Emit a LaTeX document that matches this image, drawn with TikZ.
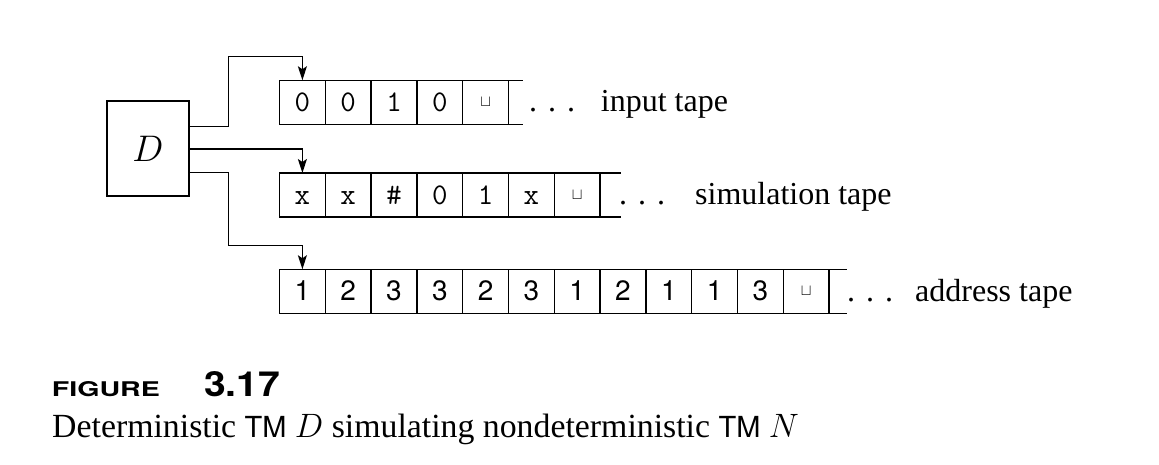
\documentclass[tikz,border=0pt]{standalone}
\usepackage{fix-cm}
\usepackage{fontspec}
\setmainfont{Liberation Serif}
\setsansfont{TeX Gyre Heros}
\usetikzlibrary{arrows.meta}
\tikzset{
  cell/.style={draw, line width=1.5pt, minimum width=45.8pt, minimum height=44pt,
    inner sep=0pt, outer sep=0pt, text height=18.3pt, text depth=0pt,
    font=\fontsize{30}{30}\selectfont\ttfamily},
  acell/.style={cell, font=\fontsize{28}{28}\selectfont\sffamily},
  tapeline/.style={line width=1.5pt},
  conn/.style={line width=1.5pt, -{Stealth[length=14pt,width=9pt,inset=3pt]}},
  lbl/.style={anchor=base west, inner sep=0pt, font=\fontsize{32}{32}\selectfont},
  dotlbl/.style={anchor=base west, inner sep=0pt, font=\fontsize{32}{32}\selectfont},
}
\newcommand{\blanksym}{\raisebox{5pt}{\fontsize{16}{16}\selectfont$\sqcup$}}
\newcommand{\tapedots}{.\hspace{11pt}.\hspace{11pt}.}
\begin{document}
\begin{tikzpicture}[x=1pt, y=-1pt]
\useasboundingbox (0,0) rectangle (1159,464);
% machine D
\node[draw, line width=1.5pt, minimum width=82pt, minimum height=95pt, inner sep=0pt]
  (D) at (148,148.5) {\fontsize{37}{37}\selectfont$D$};
% input tape
\foreach \t [count=\k] in {0,0,1,0,\blanksym}
  \node[cell] (i\k) at ({279.5+45.8*(\k-0.5)},102.25) {\t};
\draw[tapeline] (i5.north east) -- ++(14.5,0) coordinate (ie1);
\draw[tapeline] (i5.south east) -- ++(14.5,0) coordinate (ie2);
\node[dotlbl] (idots) at (529,111) {\tapedots};
\node[lbl] (ilbl) at (600.7,111) {input tape};
% simulation tape
\foreach \t [count=\k] in {x,x,\#,0,1,x,\blanksym}
  \node[cell] (s\k) at ({279.5+45.8*(\k-0.5)},195) {\t};
\draw[tapeline] (s7.north east) -- ++(21,0) coordinate (se1);
\draw[tapeline] (s7.south east) -- ++(21,0) coordinate (se2);
\node[dotlbl] (sdots) at (619,204) {\tapedots};
\node[lbl] (slbl) at (695,204) {simulation tape};
% address tape
\foreach \t [count=\k] in {1,2,3,3,2,3,1,2,1,1,3}
  \node[acell] (a\k) at ({279.5+45.8*(\k-0.5)},291.25) {\t};
\node[cell] (a12) at ({279.5+45.8*11.5},291.25) {\blanksym};
\draw[tapeline] (a12.north east) -- ++(18,0) coordinate (ae1);
\draw[tapeline] (a12.south east) -- ++(18,0) coordinate (ae2);
\node[dotlbl] (adots) at (847,301) {\tapedots};
\node[lbl] (albl) at (915,301) {address tape};
% connectors
\draw[conn] (D.east |- 0,126.3) -| (228.3,56.7) -| (i1.north);
\draw[conn] (D.east |- 0,149) -| (s1.north);
\draw[conn] (D.east |- 0,172.3) -| (228.3,245.5) -| (a1.north);
% caption
\node[anchor=south west, inner sep=0pt] (fig) at (51.7,396.7)
  {\resizebox{108pt}{15pt}{\sffamily\bfseries FIGURE}};
\node[anchor=south west, inner sep=0pt] (num) at (204,396.7)
  {\resizebox{76pt}{25pt}{\sffamily\bfseries 3.17}};
\node[anchor=base west, inner sep=0pt] (cap) at (52,437.5)
  {\fontsize{33.8}{34}\selectfont Deterministic {\fontsize{29}{29}\selectfont\sffamily TM} $D$ simulating nondeterministic {\fontsize{29}{29}\selectfont\sffamily TM} $N$};
\end{tikzpicture}
\end{document}
